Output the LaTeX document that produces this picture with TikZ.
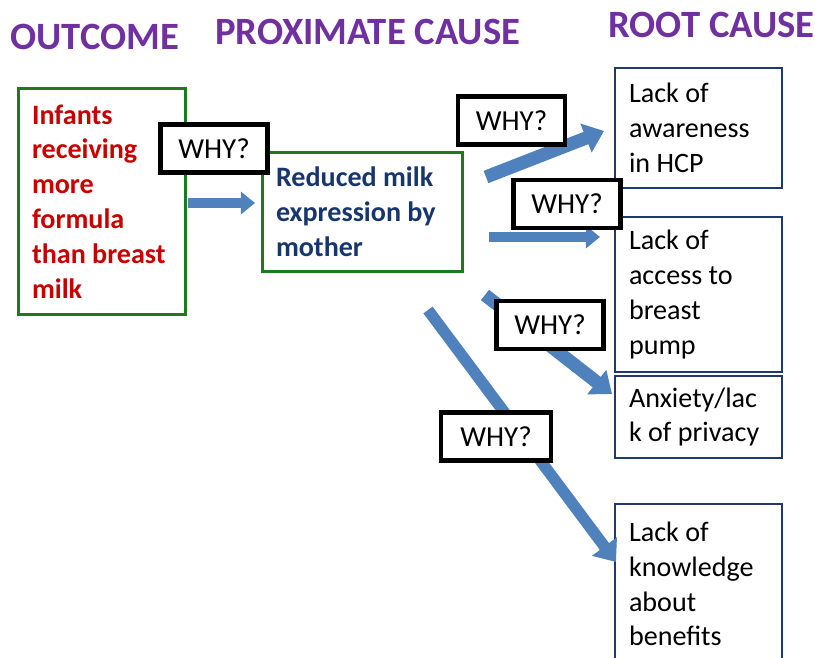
\documentclass[tikz,border=0pt]{standalone}
\usepackage{fontspec}
\setmainfont{Carlito}
\usepackage{xcolor}
\usetikzlibrary{arrows.meta}

\definecolor{headpurple}{RGB}{112,48,160}
\definecolor{boxgreen}{RGB}{30,122,30}
\definecolor{boxnavy}{RGB}{31,56,110}
\definecolor{textnavy}{RGB}{23,54,110}
\definecolor{textred}{RGB}{200,0,0}
\definecolor{arrowblue}{RGB}{79,129,189}

\begin{document}
\begin{tikzpicture}[
    x=0.02cm, y=-0.02cm,
    % Define specific styles to match the drawing
    header/.style={
        anchor=base west,
        text=headpurple,
        font=\fontsize{22}{26}\selectfont\bfseries,
        inner sep=0pt
    },
    outcome_box/.style={
        draw=boxgreen,
        line width=1.7pt,
        text=textred,
        font=\fontsize{16}{19.85}\selectfont\bfseries,
        align=flush left,
        inner xsep=0.28cm,
        inner ysep=0pt
    },
    cause_box/.style={
        outcome_box,
        text=textnavy
    },
    root_box/.style={
        draw=boxnavy,
        line width=1.4pt,
        text=black,
        font=\fontsize{16}{19.85}\selectfont,
        align=flush left,
        text width=2.78cm,
        minimum width=3.34cm,
        inner xsep=0.28cm,
        inner ysep=0pt
    },
    why_box/.style={
        draw=black,
        fill=white,
        line width=2.3pt,
        font=\fontsize{16.5}{19.85}\selectfont,
        minimum width=2.14cm,
        minimum height=0.96cm,
        inner sep=0pt
    },
    push_arrow/.style={
        draw=arrowblue,
        line width=6.2pt,
        -{Triangle[length=8pt, width=12.5pt]}
    },
    push_arrow_big/.style={
        draw=arrowblue,
        line width=7.5pt,
        -{Triangle[length=11pt, width=17pt]}
    }
]
    \useasboundingbox (0,0) rectangle (815,658);

    % --- Headers ---
    \node[header] (h_outcome) at (10,50) {OUTCOME};
    \node[header] (h_proximate) at (215,45) {PROXIMATE CAUSE};
    \node[header] (h_root) at (608,38) {ROOT CAUSE};

    % --- Boxes ---
    \node[outcome_box, text width=2.8cm, minimum height=4.54cm] (outcome) at (102,201.5)
        {Infants\\receiving\\more\\formula\\than breast\\milk};
    \node[cause_box, text width=3.46cm, minimum height=2.4cm] (proximate) at (362.5,212)
        {Reduced milk\\expression by\\mother};

    \node[root_box, minimum height=2.4cm] (awareness) at (698.5,128)
        {Lack of\\awareness\\in HCP};
    \node[root_box, minimum height=3.1cm] (pump) at (698.5,294.5)
        {Lack of\\access to\\breast\\pump};
    \node[root_box, minimum height=1.64cm] (privacy) at (698.5,417)
        {Anxiety/lac\\k of privacy};
    \node[root_box, minimum height=3.2cm] (knowledge) at (698.5,584)
        {Lack of\\knowledge\\about\\benefits};

    % --- Arrow ends ---
    \coordinate (a_out_from) at (188,203);
    \coordinate (a_out_to) at (255,203);
    \coordinate (a_aware_from) at (486,177);
    \coordinate (a_aware_to) at (604,131);
    \coordinate (a_pump_from) at (489,237);
    \coordinate (a_pump_to) at (600,237);
    \coordinate (a_priv_from) at (485,295);
    \coordinate (a_priv_to) at (612,394);
    \coordinate (a_know_from) at (428,310);
    \coordinate (a_know_to) at (616,562);

    % --- Arrows ---
    \draw[push_arrow] (a_out_from) -- (a_out_to);
    \draw[push_arrow_big] (a_aware_from) -- (a_aware_to);
    \draw[push_arrow] (a_pump_from) -- (a_pump_to);
    \draw[push_arrow_big] (a_priv_from) -- (a_priv_to);
    \draw[push_arrow_big, line width=6.5pt] (a_know_from) -- (a_know_to);

    % --- WHY? labels ---
    \node[why_box] (why_out) at (214,148.5) {WHY?};
    \node[why_box] (why_aware) at (511.5,120.5) {WHY?};
    \node[why_box] (why_pump) at (567,204) {WHY?};
    \node[why_box] (why_priv) at (550,325) {WHY?};
    \node[why_box, minimum width=2.2cm] (why_know) at (496,436.5) {WHY?};

\end{tikzpicture}
\end{document}
